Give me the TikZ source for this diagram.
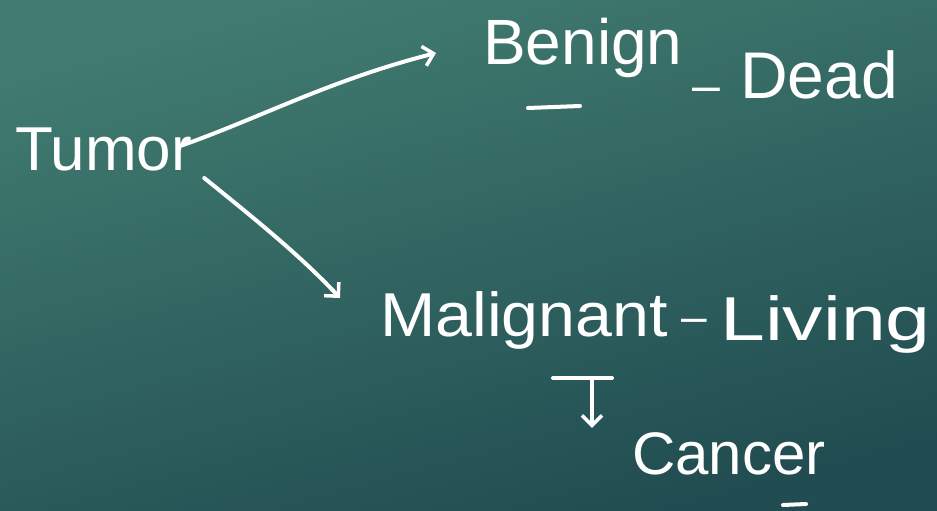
\documentclass[tikz,border=0pt]{standalone}
\usepackage{fontspec}
\usepackage{graphicx}
\setmainfont{Liberation Sans}
\usetikzlibrary{arrows.meta}
\definecolor{bgtop}{HTML}{417C70}
\definecolor{bgbot}{HTML}{214C51}
\begin{document}
\begin{tikzpicture}[x=1pt,y=-1pt,
  lbl/.style={text=white, inner sep=0pt, anchor=base west},
  chalk/.style={white, line width=4pt, line cap=round, line join=round},
  tip/.style={-{Straight Barb[length=10pt,width=20pt,line width=3.5pt]}}]
\shade[top color=bgtop, bottom color=bgbot, shading angle=15] (0,0) rectangle (937,511);
\useasboundingbox (0,0) rectangle (937,511);
% texts
\node[lbl, font=\fontsize{62}{70}\selectfont] (tumor) at (15,170) {Tumor};
\node[lbl, font=\fontsize{64}{70}\selectfont] (benign) at (483,64) {Benign};
\node[text=white, inner sep=0pt, font=\fontsize{50}{60}\selectfont] (dash1) at (706,95) {–};
\node[lbl, font=\fontsize{66}{70}\selectfont] (dead) at (740,98) {Dead};
\node[lbl, font=\fontsize{62}{70}\selectfont] (malignant) at (380,336) {\scalebox{1.07}[1]{Malignant}};
\node[text=white, inner sep=0pt, font=\fontsize{46}{60}\selectfont] (dash2) at (694,326) {–};
\node[lbl, font=\fontsize{62}{70}\selectfont] (living) at (720,340) {\scalebox{1.3}[1]{Living}};
\node[lbl, font=\fontsize{60}{70}\selectfont] (cancer) at (632,474) {Cancer};
% underline marks
\draw[chalk] (528,108) -- (580,106);
\draw[chalk] (783,505) -- (806,504);
% connectors
\coordinate (t1) at ([shift={(-12,-24)}]tumor.base east);
\coordinate (b1) at ([shift={(-47,-11)}]benign.base west);
\draw[chalk, tip] (t1) .. controls (260,118) and (330,80) .. (b1);
\coordinate (t2) at ([shift={(12,8)}]tumor.base east);
\coordinate (m1) at ([shift={(-40,-38)}]malignant.base west);
\draw[chalk, tip] (t2) .. controls (250,215) and (300,255) .. (m1);
% malignant -> cancer
\coordinate (barL) at (553,378);
\coordinate (barR) at (612,378);
\coordinate (barM) at (592,378);
\draw[chalk] (barL) -- (barR);
\draw[chalk, tip] (barM) -- ([yshift=4pt]barM |- cancer.north);
\end{tikzpicture}
\end{document}
